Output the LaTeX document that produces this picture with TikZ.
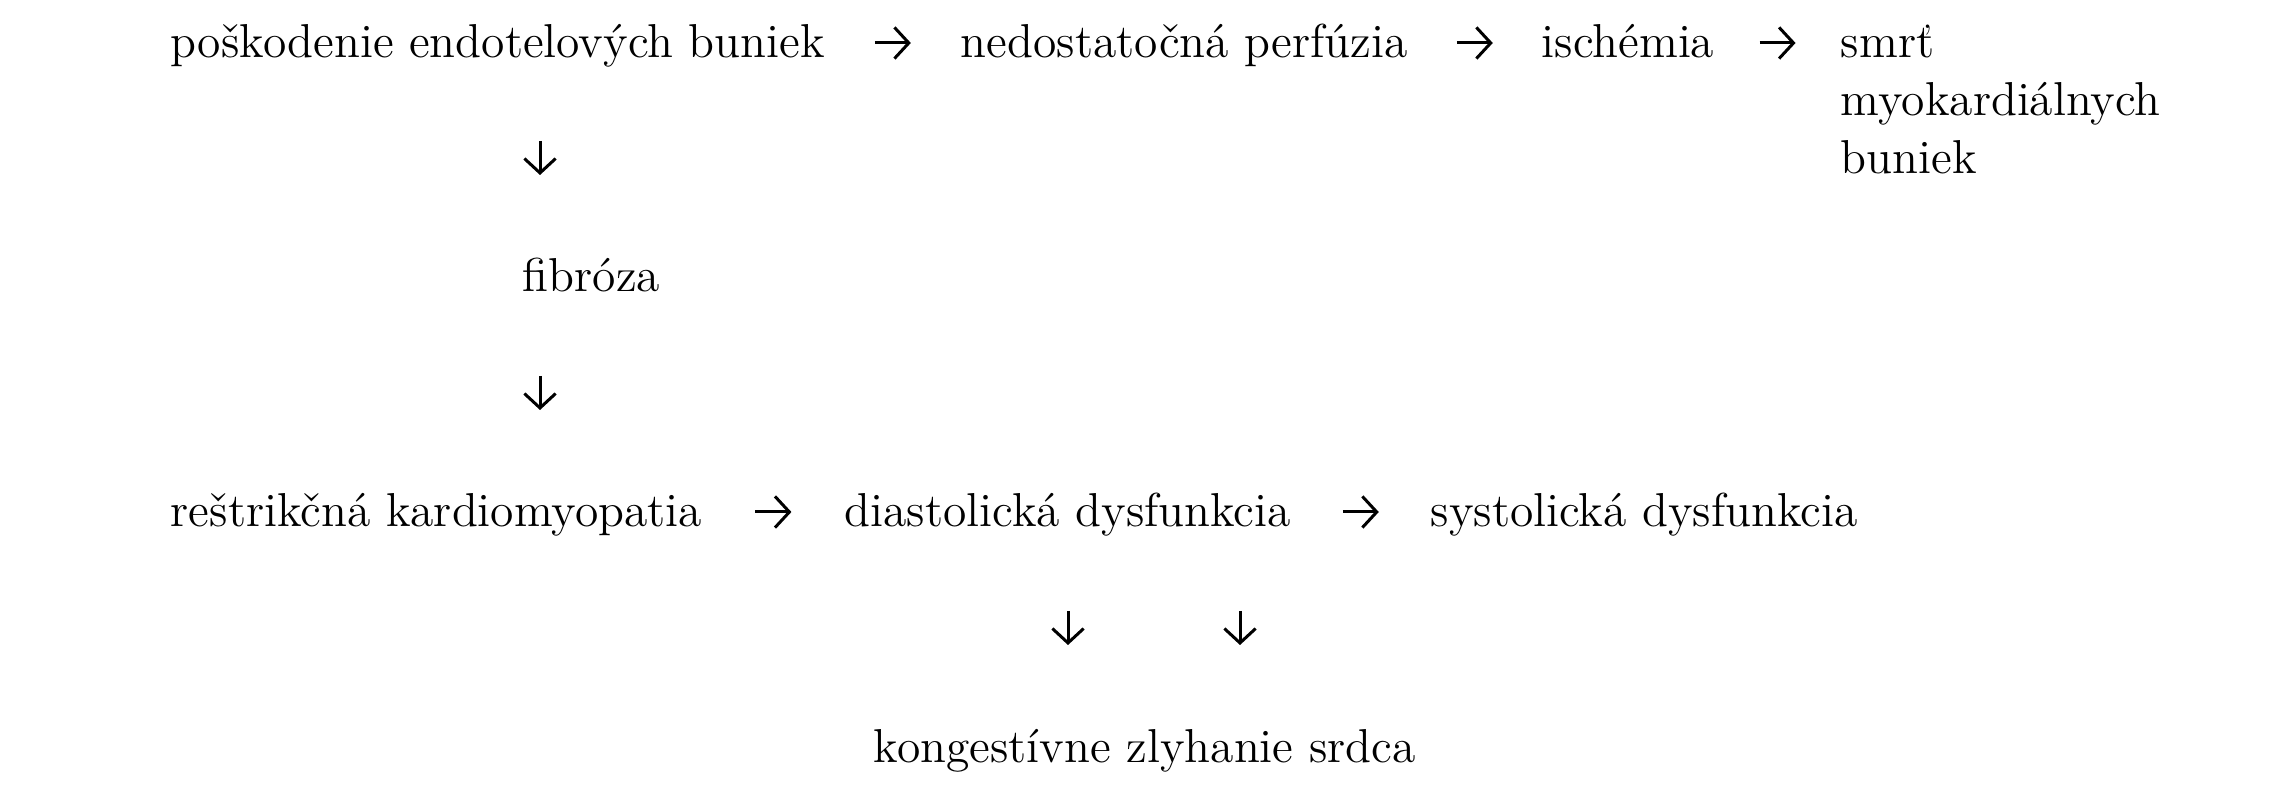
\documentclass[tikz,border=0pt]{standalone}
\usepackage{fontspec}
\usetikzlibrary{arrows.meta,calc}
\begin{document}
\begin{tikzpicture}[x=0.25pt,y=-0.25pt,
  lbl/.style={inner sep=0pt, anchor=base west, font=\fontsize{11.9}{14.4}\selectfont\addfontfeatures{FakeBold=0.35}},
  arr/.style={line width=0.75pt, -{Straight Barb[length=3.6pt,width=7.8pt]}}]
\useasboundingbox (0,0) rectangle (2281,800);
% row 1
\node[lbl] (n1) at (170,58) {poškodenie endotelových buniek};
\node[lbl] (n2) at (960,58) {nedostatočná perfúzia};
\node[lbl] (n3) at (1541,58) {ischémia};
\node[lbl] (n4) at (1840,58) {\begin{tabular}[t]{@{}l@{}}smrť\\myokardiálnych\\buniek\end{tabular}};
% middle
\node[lbl] (fib) at (522,292) {fibróza};
% row 3
\node[lbl] (r1) at (170,527) {reštrikčná kardiomyopatia};
\node[lbl] (r2) at (844,527) {diastolická dysfunkcia};
\node[lbl] (r3) at (1430,527) {systolická dysfunkcia};
% bottom
\node[lbl] (kong) at (873,763) {kongestívne zlyhanie srdca};
% horizontal arrows
\draw[arr] ($(n1.base east)!.5!(n2.base west)+(-18,-15)$) -- ($(n1.base east)!.5!(n2.base west)+(18,-15)$);
\draw[arr] ($(n2.base east)!.5!(n3.base west)+(-18,-15)$) -- ($(n2.base east)!.5!(n3.base west)+(18,-15)$);
\draw[arr] ($(n3.base east)!.5!(n4.base west)+(-18,-15)$) -- ($(n3.base east)!.5!(n4.base west)+(18,-15)$);
\draw[arr] ($(r1.base east)!.5!(r2.base west)+(-18,-15)$) -- ($(r1.base east)!.5!(r2.base west)+(18,-15)$);
\draw[arr] ($(r2.base east)!.5!(r3.base west)+(-18,-15)$) -- ($(r2.base east)!.5!(r3.base west)+(18,-15)$);
% vertical arrows
\draw[arr] ($(fib.base west)+(18,-151)$) -- ($(fib.base west)+(18,-117)$);
\draw[arr] ($(fib.base west)+(18,84)$) -- ($(fib.base west)+(18,118)$);
\draw[arr] ($(kong.base west)+(195,-152)$) -- ($(kong.base west)+(195,-118)$);
\draw[arr] ($(kong.base west)+(367,-152)$) -- ($(kong.base west)+(367,-118)$);
\end{tikzpicture}
\end{document}
